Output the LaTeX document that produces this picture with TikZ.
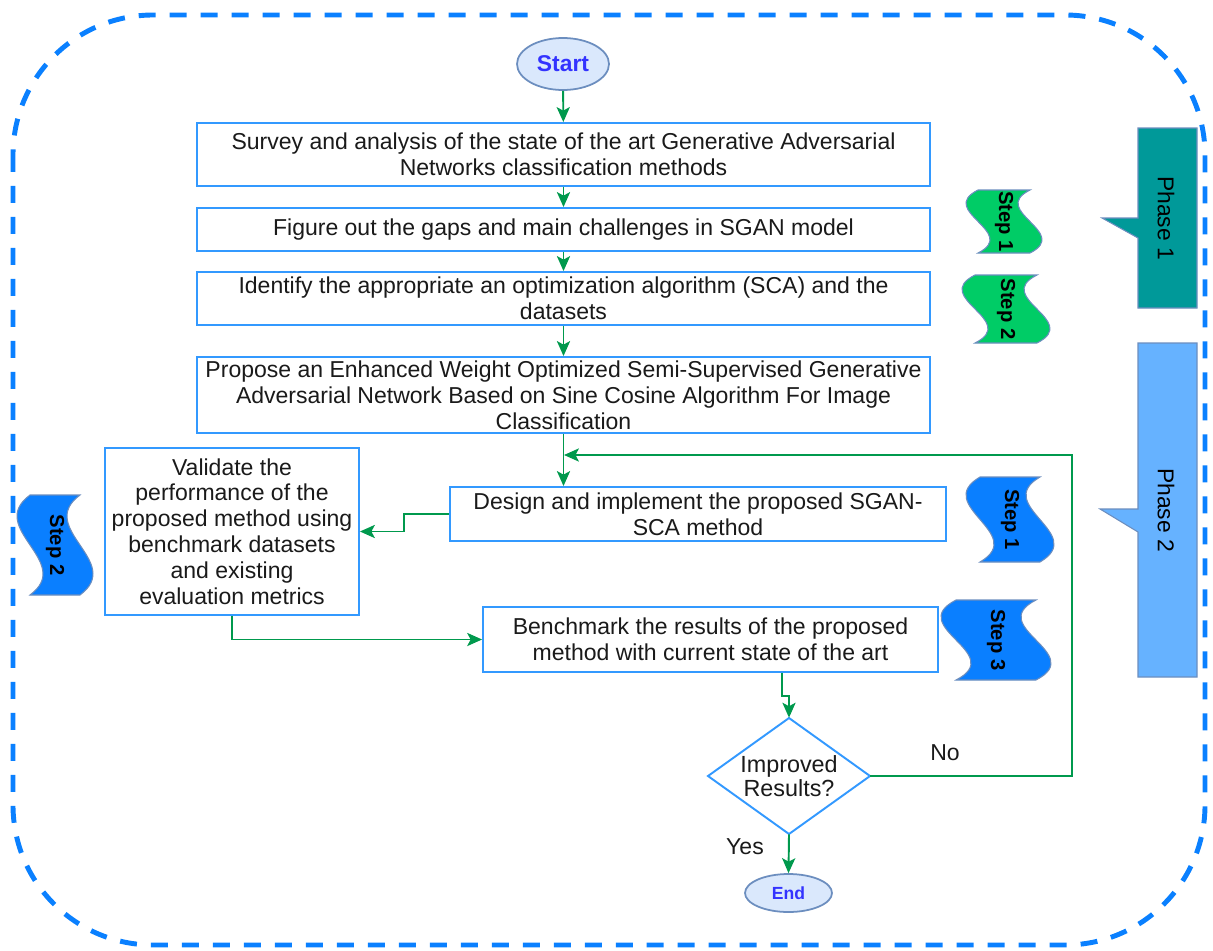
\documentclass[tikz,border=0pt]{standalone}
\usepackage{fontspec}
\setmainfont{Liberation Sans}
\usetikzlibrary{shapes.geometric,arrows.meta,calc}

\definecolor{flowblue}{HTML}{3399FF}
\definecolor{linkgreen}{HTML}{00994D}
\definecolor{dashblue}{HTML}{0A80FF}
\definecolor{termfill}{HTML}{DAE8FC}
\definecolor{termline}{HTML}{6C8EBF}
\definecolor{termtext}{HTML}{3333FF}
\definecolor{stepgreen}{HTML}{00CC66}
\definecolor{stepblue}{HTML}{0A7FFF}
\definecolor{phaseteal}{HTML}{009999}
\definecolor{phaseblue}{HTML}{66B2FF}
\definecolor{ink}{HTML}{1A1A1A}

\newcommand{\bodysize}{\fontsize{13.1pt}{14.7pt}\selectfont}

% wavy tag standing on its end: centre x, centre y, width, height, wave amplitude, fill
\newcommand{\wavetag}[6]{%
  \draw[tagline, fill=#6]
    ({#1-#3/2},{#2-#4/2})
      .. controls ({#1-#3/2-3.46*#5},{#2-#4/6}) and ({#1-#3/2+3.46*#5},{#2+#4/6}) ..
    ({#1-#3/2},{#2+#4/2}) -- ({#1+#3/2},{#2+#4/2})
      .. controls ({#1+#3/2+3.46*#5},{#2+#4/6}) and ({#1+#3/2-3.46*#5},{#2-#4/6}) ..
    ({#1+#3/2},{#2-#4/2}) -- cycle;}

\tikzset{
  box/.style={draw=flowblue, line width=1.1pt, fill=white, inner sep=0pt,
    align=center, font=\bodysize, text=ink},
  term/.style={ellipse, draw=termline, line width=1pt, fill=termfill, inner sep=0pt,
    text=termtext},
  decisiontext/.style={rectangle, inner sep=0pt, align=center,
    font=\fontsize{13.3pt}{14pt}\selectfont, text=ink},
  decisionline/.style={draw=flowblue, line width=1.1pt, fill=white},
  arr/.style={draw=linkgreen, line width=1.1pt,
    -{Stealth[length=8.5pt, width=7.5pt, inset=2pt]}},
  tagline/.style={draw=termline, line width=0.6pt},
  tagtext/.style={rotate=-90, font=\fontsize{11.5pt}{13pt}\selectfont\bfseries, text=black},
  phasetext/.style={rotate=-90, font=\fontsize{13pt}{15pt}\selectfont, text=black},
  lbl/.style={font=\bodysize, text=ink},
  frame/.style={draw=dashblue, line width=2.8pt, dash pattern=on 0.34cm off 0.28cm,
    rounded corners=2.8cm}
}

\begin{document}
\begin{tikzpicture}[x=0.02cm, y=-0.02cm]
\useasboundingbox (0,0) rectangle (1213,950);

% dashed outer frame
\draw[frame] (13,15) rectangle (1205,945);

% phase callouts
\draw[tagline, fill=phaseteal]
  (1138,128) -- (1197,128) -- (1197,308) -- (1138,308) -- (1138,238) -- (1102,218) -- (1138,218) -- cycle;
\node[phasetext] (ph1) at (1166,218) {Phase 1};
\draw[tagline, fill=phaseblue]
  (1138,343) -- (1197,343) -- (1197,677) -- (1138,677) -- (1138,532) -- (1100,509) -- (1138,509) -- cycle;
\node[phasetext] (ph2) at (1166,510) {Phase 2};

% step tags
\wavetag{1004}{221.5}{52}{63}{12}{stepgreen}
\node[tagtext] (g1) at (1004,221.5) {Step 1};
\wavetag{1006}{309}{62}{68}{13}{stepgreen}
\node[tagtext] (g2) at (1006,309) {Step 2};
\wavetag{55}{545}{50}{100}{13}{stepblue}
\node[tagtext] (bl2) at (55,545) {Step 2};
\wavetag{1010}{519.5}{60}{85}{14}{stepblue}
\node[tagtext] (bl1) at (1010,519.5) {Step 1};
\wavetag{996}{640}{80}{80}{15}{stepblue}
\node[tagtext] (bl3) at (996,640) {Step 3};

% terminals
\node[term, minimum width=1.84cm, minimum height=1.04cm,
      font=\fontsize{13pt}{15pt}\selectfont\bfseries] (start) at (563,64) {Start};
\node[term, minimum width=1.74cm, minimum height=0.76cm,
      font=\fontsize{10pt}{12pt}\selectfont\bfseries] (end) at (788.5,893) {End};

% process boxes
\node[box, minimum width=14.66cm, minimum height=1.26cm] (survey) at (563.5,154.5)
  {Survey and analysis of the state of the art Generative Adversarial\\Networks classification methods};
\node[box, minimum width=14.66cm, minimum height=0.86cm] (gaps) at (563.5,229.5)
  {Figure out the gaps and main challenges in SGAN model};
\node[box, minimum width=14.66cm, minimum height=1.06cm] (ident) at (563.5,298.5)
  {Identify the appropriate an optimization algorithm (SCA) and the\\datasets};
\node[box, minimum width=14.66cm, minimum height=1.52cm] (propose) at (563.5,395)
  {Propose an Enhanced Weight Optimized Semi-Supervised Generative\\Adversarial Network Based on Sine Cosine Algorithm For Image\\Classification};
\node[box, minimum width=5.08cm, minimum height=3.34cm] (valid) at (232,531.5)
  {Validate the\\performance of the\\proposed method using\\benchmark datasets\\and existing\\evaluation metrics};
\node[box, minimum width=9.92cm, minimum height=1.08cm] (design) at (698,514)
  {Design and implement the proposed SGAN-\\SCA method};
\node[box, minimum width=9.10cm, minimum height=1.30cm] (bench) at (710.5,639.5)
  {Benchmark the results of the proposed\\method with current state of the art};

% decision: outline drawn first, the node carries the text and the anchors
\draw[decisionline] (708,776) -- (789,718) -- (870,776) -- (789,834) -- cycle;
\node[decisiontext, minimum width=3.24cm, minimum height=2.32cm] (dec) at (789,776)
  {Improved\\Results?};

% labels
\node[lbl] (nolbl) at (945,753) {No};
\node[lbl] (yeslbl) at (745,847) {Yes};

% connectors
\draw[arr] (start) -- (survey);
\draw[arr] (survey) -- (gaps);
\draw[arr] (gaps) -- (ident);
\draw[arr] (ident) -- (propose);
\draw[arr] (propose) -- (propose |- design.north);
\coordinate (loopcorner) at (1072,455);
\coordinate (loopjoin) at (564,455);
\draw[arr] (dec.east) -| (loopcorner) -- (loopjoin);
\draw[arr] (design.west) -- ++(-45,0) |- (valid.east);
\draw[arr] (valid.south) |- (bench.west);
\draw[arr] ([xshift=1.43cm]bench.south) -- ++(0,23) -| (dec.north);
\draw[arr] (dec.south) -- (end.north);
\end{tikzpicture}
\end{document}
